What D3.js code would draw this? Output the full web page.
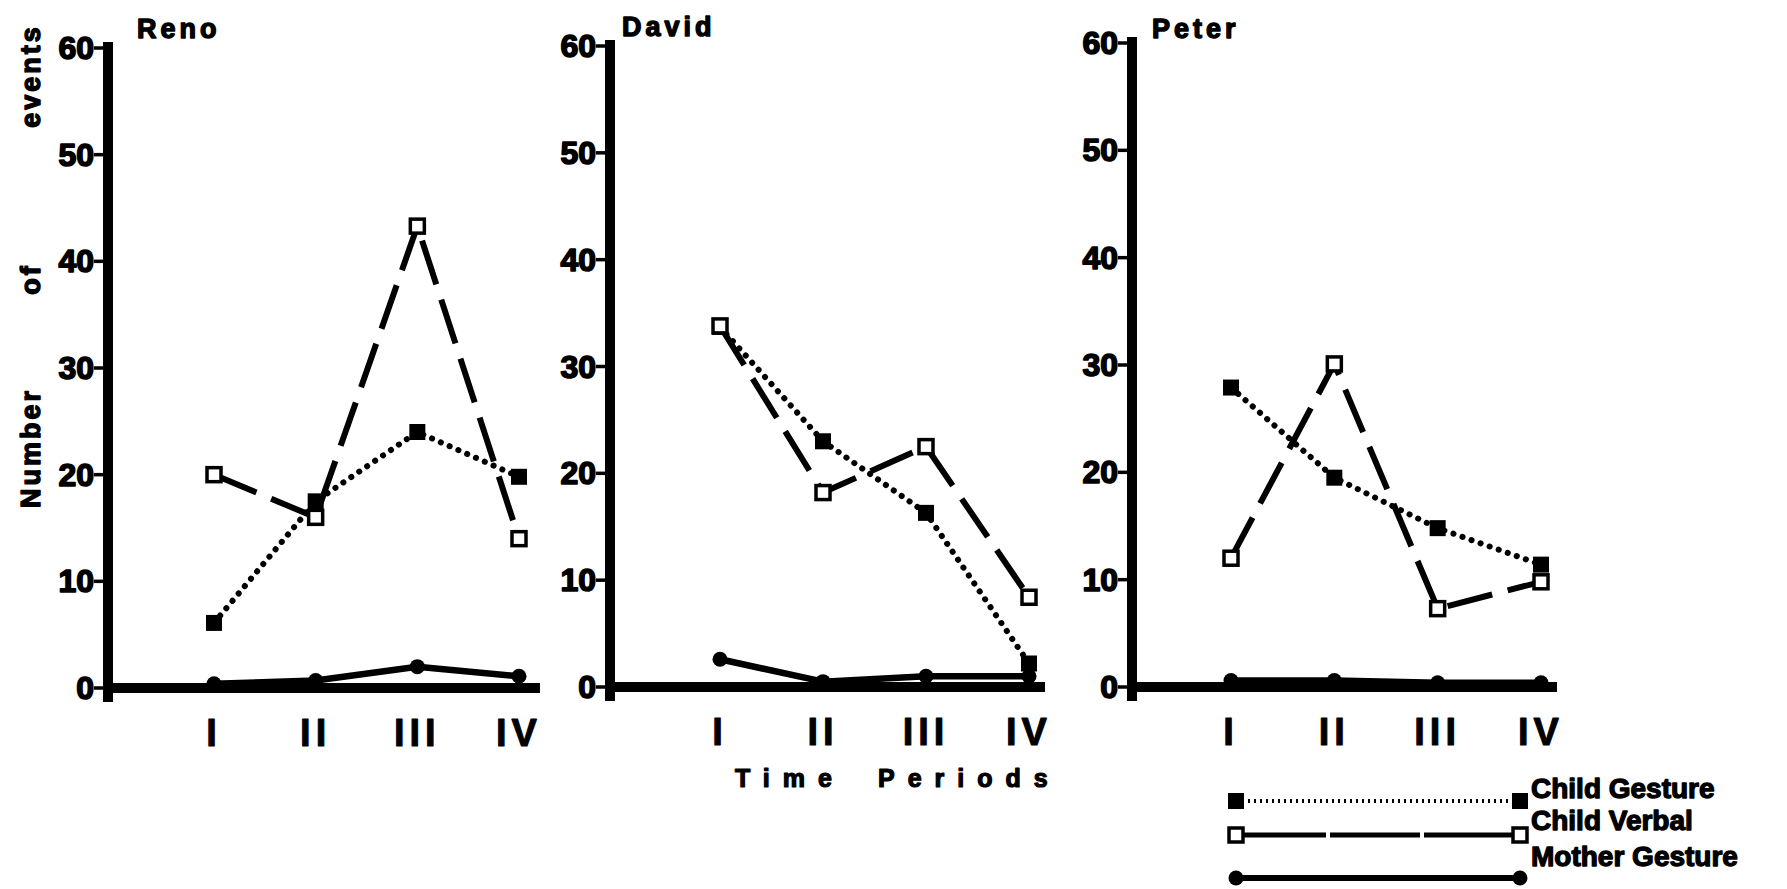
<!DOCTYPE html>
<html><head><meta charset="utf-8">
<script src="https://cdn.jsdelivr.net/npm/d3@7"></script>
<style>body{margin:0;background:#fff} text{paint-order:stroke;stroke:#000;stroke-linejoin:round}</style>
</head><body>
<svg id="c" width="1787" height="889"></svg>
<script>
// ---------- data ----------
const periods = ["I","II","III","IV"];
const children = ["Reno","David","Peter"];
const yTicks = [0,10,20,30,40,50,60];
const yTickLabels = ["0","10","20","30","40","50","60"];
const seriesNames = ["Child Gesture","Child Verbal","Mother Gesture"];
const renoGesture  = [6.1, 17.5, 24, 19.8];
const renoVerbal   = [20, 16, 43.3, 14];
const renoMother   = [0.4, 0.7, 2, 1.1];
const davidGesture = [33.7, 23, 16.3, 2.2];
const davidVerbal  = [33.8, 18.2, 22.5, 8.4];
const davidMother  = [2.6, 0.5, 1, 1];
const peterGesture = [27.9, 19.5, 14.8, 11.4];
const peterVerbal  = [12, 30.1, 7.3, 9.8];
const peterMother  = [0.6, 0.6, 0.4, 0.4];
const yLabelWords = ["Number","of","events"];
const xTitleWords = ["Time","Periods"];

const dataByChild = {
  Reno:  [renoGesture, renoVerbal, renoMother],
  David: [davidGesture, davidVerbal, davidMother],
  Peter: [peterGesture, peterVerbal, peterMother]
};

// ---------- layout ----------
const layout = {
  Reno:  {ax:108,  x0:214,  x1:519,  xe:540,  top:48, base:688, tx:137, ty:38},
  David: {ax:610,  x0:720,  x1:1029, xe:1045, top:46, base:687, tx:622, ty:36},
  Peter: {ax:1132, x0:1231, x1:1541, xe:1557, top:43, base:687, tx:1152, ty:38}
};
const FONT = "'Liberation Sans', Arial, sans-serif";
const svg = d3.select("#c");

const styles = [
  {dash:"0.1 9.5", cap:"round", w:6, marker:"fsq"},
  {dash:"46 16",  cap:"butt",  w:6, marker:"osq"},
  {dash:null,     cap:"round", w:6.5, marker:"dot"}
];

function drawMarker(g, kind, x, y, s) {
  s = s || 1;
  if (kind === "fsq") {
    g.append("rect").attr("x", x-8*s).attr("y", y-8*s).attr("width",16*s).attr("height",16*s).attr("fill","#000");
  } else if (kind === "osq") {
    g.append("rect").attr("x", x-7*s).attr("y", y-7*s).attr("width",14*s).attr("height",14*s)
      .attr("fill","#fff").attr("stroke","#000").attr("stroke-width",3.5);
  } else {
    g.append("circle").attr("cx", x).attr("cy", y).attr("r", 7.5*s).attr("fill","#000");
  }
}

children.forEach(name => {
  const L = layout[name];
  const g = svg.append("g");
  const x = d3.scalePoint().domain(periods).range([L.x0, L.x1]);
  const y = d3.scaleLinear().domain([0,60]).range([L.base, L.top]);

  // y ticks
  yTicks.forEach((t,i) => {
    g.append("line").attr("x1", L.ax-14).attr("x2", L.ax).attr("y1", y(t)).attr("y2", y(t))
      .attr("stroke","#000").attr("stroke-width",3.5);
    g.append("text").attr("x", L.ax-14).attr("y", y(t)+11).attr("text-anchor","end")
      .attr("font-family",FONT).attr("font-weight","bold").attr("font-size",32)
      .attr("stroke-width",1.6).text(yTickLabels[i]);
  });
  // axes
  g.append("line").attr("x1", L.ax).attr("x2", L.ax).attr("y1", L.top-6).attr("y2", L.base+14)
    .attr("stroke","#000").attr("stroke-width",10);
  g.append("line").attr("x1", L.ax-4).attr("x2", L.xe).attr("y1", L.base).attr("y2", L.base)
    .attr("stroke","#000").attr("stroke-width",10);
  // x labels
  periods.forEach(p => {
    g.append("text").attr("x", x(p)).attr("y", L.base+58).attr("text-anchor","middle")
      .attr("font-family",FONT).attr("font-weight","bold").attr("font-size",38)
      .attr("letter-spacing",5).attr("stroke-width",1).text(p);
  });
  // title
  g.append("text").attr("x", L.tx).attr("y", L.ty).attr("font-family",FONT).attr("font-weight","bold")
    .attr("font-size",27).attr("letter-spacing",4).attr("stroke-width",1.4).text(name);

  // series (mother first, then gesture, then verbal)
  const order = [2,0,1];
  order.forEach(si => {
    const vals = dataByChild[name][si];
    const st = styles[si];
    const line = d3.line().x((d,i)=>x(periods[i])).y(d=>y(d));
    const path = g.append("path").attr("d", line(vals)).attr("fill","none")
      .attr("stroke","#000").attr("stroke-width",st.w).attr("stroke-linecap",st.cap)
      .attr("stroke-linejoin","round");
    if (st.dash) path.attr("stroke-dasharray", st.dash);
    vals.forEach((v,i) => drawMarker(g, st.marker, x(periods[i]), y(v)));
  });
});

// y axis title
const yl = svg.append("g").attr("transform","translate(40,0) rotate(-90)");
const yPos = [448, 279, 76];
yLabelWords.forEach((w,i) => {
  yl.append("text").attr("x", -yPos[i]).attr("y", 0).attr("text-anchor","middle")
    .attr("font-family",FONT).attr("font-weight","bold").attr("font-size",27)
    .attr("letter-spacing",3).attr("stroke-width",1.4).text(w);
});

// x axis title (two words placed as in the original)
const xtX = [735, 878];
xTitleWords.forEach((w,i) => {
  svg.append("text").attr("x", xtX[i]).attr("y", 787)
    .attr("font-family",FONT).attr("font-weight","bold").attr("font-size",25)
    .attr("letter-spacing",13).attr("stroke-width",1.2).text(w);
});

// legend
const legY = [801, 835, 878];
const legTextY = [798, 830, 866];
const legStyles = [
  {dash:"2 4", w:4},
  {dash:"90 4", w:5},
  {dash:null, w:6}
];
seriesNames.forEach((n,i) => {
  const g = svg.append("g");
  const ln = g.append("line").attr("x1",1236).attr("x2",1520).attr("y1",legY[i]).attr("y2",legY[i])
    .attr("stroke","#000").attr("stroke-width",legStyles[i].w);
  if (legStyles[i].dash) ln.attr("stroke-dasharray", legStyles[i].dash);
  drawMarker(g, styles[i].marker, 1236, legY[i]);
  drawMarker(g, styles[i].marker, 1520, legY[i]);
  g.append("text").attr("x",1531).attr("y",legTextY[i]).attr("font-family",FONT)
    .attr("font-weight","bold").attr("font-size",28).attr("stroke-width",1.3).text(n);
});
</script>
</body></html>
